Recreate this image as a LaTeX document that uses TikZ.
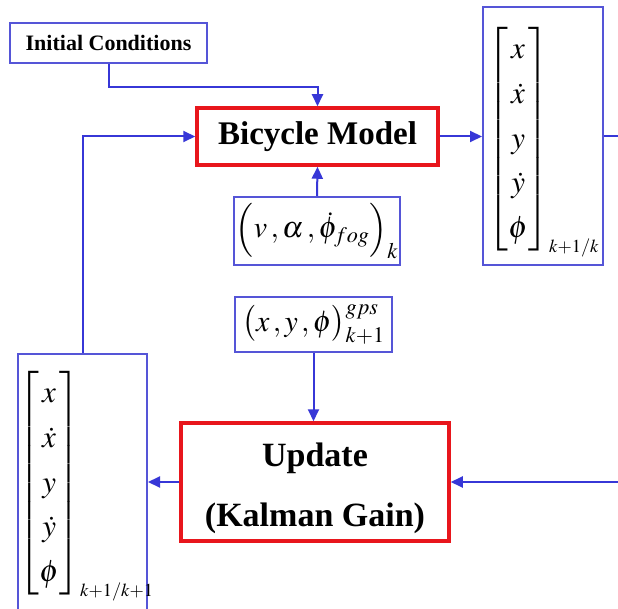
\documentclass[tikz,border=0pt]{standalone}
\usepackage{mathptmx}
\usepackage{fontspec}
\setmainfont{Liberation Serif}
\usetikzlibrary{arrows.meta}
\definecolor{lineblue}{RGB}{55,55,215}
\definecolor{boxblue}{RGB}{85,85,215}
\definecolor{boxred}{RGB}{232,22,28}
\tikzset{
 bbox/.style={draw=boxblue,line width=2pt,inner sep=0pt,fill=white},
 rbox/.style={draw=boxred,line width=3.5pt,inner sep=0pt,fill=white},
 arr/.style={draw=lineblue,line width=2pt,-{Triangle[length=12pt,width=11pt]}},
 ln/.style={draw=lineblue,line width=2pt},
 mat/.style={inner sep=0pt,anchor=west,font=\fontsize{31}{38}\selectfont},
}
\newcommand{\subsc}[1]{\scalebox{0.8}{$\scriptstyle #1$}}
\newcommand{\statevec}{\renewcommand\arraystretch{1.18}\setlength{\arraycolsep}{0.5pt}}
\begin{document}
\begin{tikzpicture}[x=1pt,y=-1pt]
\useasboundingbox[fill=white] (0,0) rectangle (618,609);
\clip (0,0) rectangle (618,609);
% boxes
\node[bbox,minimum width=197pt,minimum height=40pt,font=\fontsize{22}{26}\selectfont\bfseries] (ic) at (108.5,43) {Initial Conditions};
\node[rbox,minimum width=241pt,minimum height=57pt,font=\fontsize{33}{38}\selectfont\bfseries] (bm) at (317.5,136.5) {Bicycle Model};
\node[bbox,minimum width=166pt,minimum height=68pt,font=\fontsize{30}{36}\selectfont] (in) at (317,231) {$\Bigl(v\,,\alpha\,,\dot{\phi}_{fog}\Bigr)_{k}$};
\node[bbox,minimum width=157pt,minimum height=55pt,font=\fontsize{30}{36}\selectfont] (gps) at (313.5,324.5) {$\bigl(x\,,y\,,\phi\bigr)^{gps}_{k+1}$};
\node[bbox,minimum width=120pt,minimum height=258pt] (rs) at (543,136) {};
\node[rbox,minimum width=268pt,minimum height=118pt] (up) at (315,482) {};
\node[align=center,font=\fontsize{34}{60}\selectfont\bfseries,inner sep=0pt] (uptxt) at (315,488) {Update\\(Kalman Gain)};
\node[bbox,minimum width=129pt,minimum height=260pt] (ls) at (82.5,484) {};
% matrices
\node[mat] (rm) at (487,142) {\statevec$\left[\begin{array}{c}x\\\dot{x}\\y\\\dot{y}\\\phi\end{array}\right]_{\subsc{k+1/k}}$};
\node[mat] (lm) at (18,486) {\statevec$\left[\begin{array}{c}x\\\dot{x}\\y\\\dot{y}\\\phi\end{array}\right]_{\subsc{k+1/k+1}}$};
% free ends
\coordinate (c1) at (317.5,87);
\coordinate (outR1) at (620,136);
\coordinate (outR2) at (620,482);
% connectors
\draw[arr] (ic.south) |- (c1) -- (bm.north);
\draw[arr] (in.north) -- (bm.south);
\draw[arr] (bm.east) -- (bm.east -| rs.west);
\draw[ln] (rs.east |- outR1) -- (outR1);
\draw[arr] (outR2) -- (up.east);
\draw[arr] (up.west) -- (up.west -| ls.east);
\draw[arr] (ls.north) |- (bm.west);
\draw[arr] (gps.south) -- (gps.south |- up.north);
\end{tikzpicture}
\end{document}
